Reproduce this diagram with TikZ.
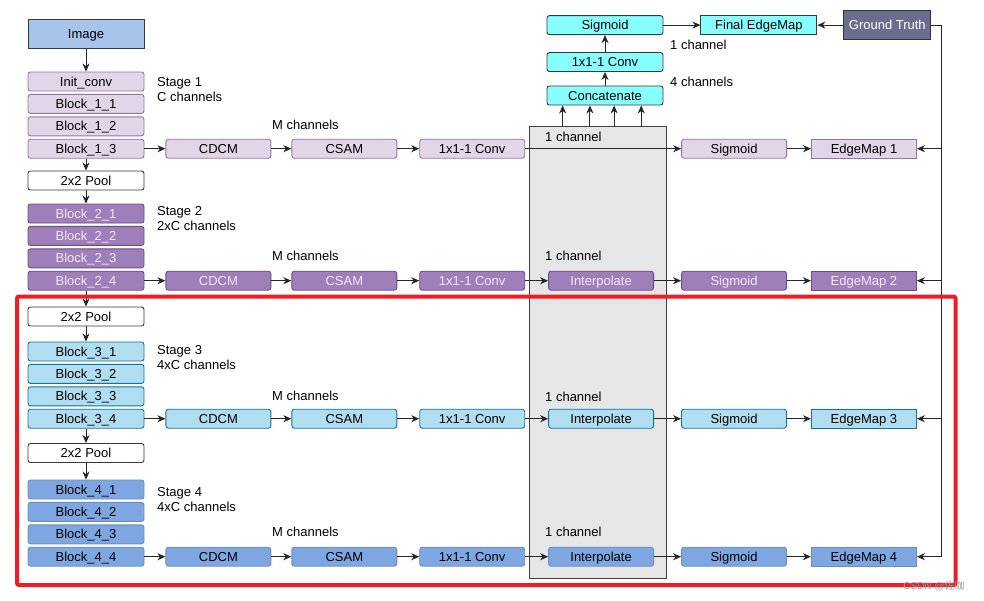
\documentclass[tikz,border=0pt]{standalone}
\usepackage{fontspec}
\setmainfont{Liberation Sans}
\newfontfamily\cjkfont{Noto Sans CJK SC}
\usetikzlibrary{arrows.meta,positioning,calc}
\definecolor{sOneFill}{HTML}{E1D5E7}
\definecolor{sOneLine}{HTML}{9673A6}
\definecolor{sTwoFill}{HTML}{9F7FBA}
\definecolor{sTwoLine}{HTML}{6A4C83}
\definecolor{sTwoText}{HTML}{F2EAF8}
\definecolor{sThreeFill}{HTML}{B1DDF0}
\definecolor{sThreeLine}{HTML}{10739E}
\definecolor{sFourFill}{HTML}{7EA6E0}
\definecolor{sFourLine}{HTML}{6C8EBF}
\definecolor{topFill}{HTML}{88FFFF}
\definecolor{imgFill}{HTML}{A9C4EB}
\definecolor{gtFill}{HTML}{6C6C8E}
\definecolor{panelFill}{HTML}{E6E6E6}
\definecolor{darkLine}{HTML}{36393D}
\definecolor{markRed}{HTML}{EE1C25}
\tikzset{
  blk/.style={rectangle, rounded corners=2.5pt, line width=0.9pt, minimum width=116pt, minimum height=19pt, inner sep=0pt, text height=9pt, text depth=0pt, font=\fontsize{13}{15}\selectfont},
  wblk/.style={blk, minimum width=105pt},
  mapblk/.style={wblk, sharp corners},
  sOne/.style={fill=sOneFill, draw=sOneLine},
  sTwo/.style={fill=sTwoFill, draw=sTwoLine, text=sTwoText},
  sThree/.style={fill=sThreeFill, draw=sThreeLine},
  sFour/.style={fill=sFourFill, draw=sFourLine},
  topblk/.style={blk, fill=topFill, draw=darkLine},
  poolblk/.style={blk, fill=white, draw=darkLine},
  lbl/.style={anchor=west, inner sep=0pt, align=left, font=\fontsize{13}{15}\selectfont},
  arrow/.style={-{Stealth[length=8pt, width=7pt, inset=2.5pt]}, line width=0.9pt, draw=black!85},
  wire/.style={line width=0.9pt, draw=black!85}
}
\begin{document}
\begin{tikzpicture}[x=1pt, y=-1pt, node distance=2.5pt]
  \useasboundingbox (0,0) rectangle (984,600);
  % side-output panel behind the interpolation column
  \node[rectangle, fill=panelFill, draw=black!75, line width=0.9pt, minimum width=137pt, minimum height=452pt] (panel) at (598,352.5) {};

  % backbone
  \node[blk, sharp corners, fill=imgFill, draw=darkLine, minimum height=29pt] (img) at (86,34) {Image};
  \node[blk, sOne] (init) at (86,81.5) {Init\_conv};
  \node[blk, sOne, below=of init] (b11) {Block\_1\_1};
  \node[blk, sOne, below=of b11] (b12) {Block\_1\_2};
  \node[blk, sOne, below=of b12] (b13) {Block\_1\_3};
  \node[poolblk] (pool1) at (86,180.5) {2x2 Pool};
  \node[blk, sTwo] (b21) at (86,213.5) {Block\_2\_1};
  \node[blk, sTwo, below=of b21] (b22) {Block\_2\_2};
  \node[blk, sTwo, below=of b22] (b23) {Block\_2\_3};
  \node[blk, sTwo, below=of b23] (b24) {Block\_2\_4};
  \node[poolblk] (pool2) at (86,316.5) {2x2 Pool};
  \node[blk, sThree] (b31) at (86,351.5) {Block\_3\_1};
  \node[blk, sThree, below=of b31] (b32) {Block\_3\_2};
  \node[blk, sThree, below=of b32] (b33) {Block\_3\_3};
  \node[blk, sThree, below=of b33] (b34) {Block\_3\_4};
  \node[poolblk] (pool3) at (86,453) {2x2 Pool};
  \node[blk, sFour] (b41) at (86,489.5) {Block\_4\_1};
  \node[blk, sFour, below=of b41] (b42) {Block\_4\_2};
  \node[blk, sFour, below=of b42] (b43) {Block\_4\_3};
  \node[blk, sFour, below=of b43] (b44) {Block\_4\_4};

  \node[lbl] (st1) at (157,89.5) {Stage 1\\C channels};
  \node[lbl] (st2) at (157,219) {Stage 2\\2xC channels};
  \node[lbl] (st3) at (157,357.5) {Stage 3\\4xC channels};
  \node[lbl] (st4) at (157,499.5) {Stage 4\\4xC channels};

  % side outputs, one row per stage
  \node[wblk, sOne, right=21pt of b13] (cdcm1) {CDCM};
  \node[wblk, sOne, right=20pt of cdcm1] (csam1) {CSAM};
  \node[wblk, sOne, right=22pt of csam1] (conv1) {1x1-1 Conv};
  \node[wblk, sOne, right=156pt of conv1] (sig1) {Sigmoid};
  \node[mapblk, sOne, right=24pt of sig1] (em1) {EdgeMap 1};

  \node[wblk, sTwo, right=21pt of b24] (cdcm2) {CDCM};
  \node[wblk, sTwo, right=20pt of cdcm2] (csam2) {CSAM};
  \node[wblk, sTwo, right=22pt of csam2] (conv2) {1x1-1 Conv};
  \node[wblk, sTwo, right=23pt of conv2] (int2) {Interpolate};
  \node[wblk, sTwo, right=27pt of int2] (sig2) {Sigmoid};
  \node[mapblk, sTwo, right=24pt of sig2] (em2) {EdgeMap 2};

  \node[wblk, sThree, right=21pt of b34] (cdcm3) {CDCM};
  \node[wblk, sThree, right=20pt of cdcm3] (csam3) {CSAM};
  \node[wblk, sThree, right=22pt of csam3] (conv3) {1x1-1 Conv};
  \node[wblk, sThree, right=23pt of conv3] (int3) {Interpolate};
  \node[wblk, sThree, right=27pt of int3] (sig3) {Sigmoid};
  \node[mapblk, sThree, right=24pt of sig3] (em3) {EdgeMap 3};

  \node[wblk, sFour, right=21pt of b44] (cdcm4) {CDCM};
  \node[wblk, sFour, right=20pt of cdcm4] (csam4) {CSAM};
  \node[wblk, sFour, right=22pt of csam4] (conv4) {1x1-1 Conv};
  \node[wblk, sFour, right=23pt of conv4] (int4) {Interpolate};
  \node[wblk, sFour, right=27pt of int4] (sig4) {Sigmoid};
  \node[mapblk, sFour, right=24pt of sig4] (em4) {EdgeMap 4};

  \node[lbl] (mc1) at (272,125) {M channels};
  \node[lbl] (mc2) at (272,256) {M channels};
  \node[lbl] (mc3) at (272,396) {M channels};
  \node[lbl] (mc4) at (272,532) {M channels};
  \node[lbl] (oc1) at (545,137) {1 channel};
  \node[lbl] (oc2) at (545,256) {1 channel};
  \node[lbl] (oc3) at (545,396.5) {1 channel};
  \node[lbl] (oc4) at (545,532) {1 channel};

  % fusion
  \node[topblk] (concat) at (605,95.5) {Concatenate};
  \node[topblk, above=13.6pt of concat] (fconv) {1x1-1 Conv};
  \node[topblk, above=17pt of fconv] (fsig) {Sigmoid};
  \node[topblk, sharp corners, right=37pt of fsig] (final) {Final EdgeMap};
  \node[blk, sharp corners, fill=gtFill, draw=black!80, text=white, minimum width=87pt, minimum height=29pt, right=26pt of final] (gt) {Ground Truth};
  \node[lbl] (fc1) at (670,45) {1 channel};
  \node[lbl] (fc4) at (670,82) {4 channels};

  % connectors
  \draw[arrow] (img) -- (init);
  \draw[arrow] (b13) -- (pool1);
  \draw[arrow] (pool1) -- (b21);
  \draw[arrow] (b24) -- (pool2);
  \draw[arrow] (pool2) -- (b31);
  \draw[arrow] (b34) -- (pool3);
  \draw[arrow] (pool3) -- (b41);

  \draw[arrow] (b13) -- (cdcm1);
  \draw[arrow] (cdcm1) -- (csam1);
  \draw[arrow] (csam1) -- (conv1);
  \draw[arrow] (conv1) -- (sig1);
  \draw[arrow] (sig1) -- (em1);
  \draw[arrow] (b24) -- (cdcm2);
  \draw[arrow] (cdcm2) -- (csam2);
  \draw[arrow] (csam2) -- (conv2);
  \draw[arrow] (conv2) -- (int2);
  \draw[arrow] (int2) -- (sig2);
  \draw[arrow] (sig2) -- (em2);
  \draw[arrow] (b34) -- (cdcm3);
  \draw[arrow] (cdcm3) -- (csam3);
  \draw[arrow] (csam3) -- (conv3);
  \draw[arrow] (conv3) -- (int3);
  \draw[arrow] (int3) -- (sig3);
  \draw[arrow] (sig3) -- (em3);
  \draw[arrow] (b44) -- (cdcm4);
  \draw[arrow] (cdcm4) -- (csam4);
  \draw[arrow] (csam4) -- (conv4);
  \draw[arrow] (conv4) -- (int4);
  \draw[arrow] (int4) -- (sig4);
  \draw[arrow] (sig4) -- (em4);

  \path ($(concat.south west)!0.138!(concat.south east)$) coordinate (in1)
        ($(concat.south west)!0.371!(concat.south east)$) coordinate (in2)
        ($(concat.south west)!0.578!(concat.south east)$) coordinate (in3)
        ($(concat.south west)!0.810!(concat.south east)$) coordinate (in4);
  \draw[arrow] (panel.north -| in1) -- (in1);
  \draw[arrow] (panel.north -| in2) -- (in2);
  \draw[arrow] (panel.north -| in3) -- (in3);
  \draw[arrow] (panel.north -| in4) -- (in4);
  \draw[arrow] (concat) -- (fconv);
  \draw[arrow] (fconv) -- (fsig);
  \draw[arrow] (fsig) -- (final);
  \draw[arrow] (gt) -- (final);

  % ground truth rail
  \coordinate (rail) at ($(gt.east)+(10,0)$);
  \draw[wire] (gt.east) -- (rail) -- (rail |- em4.east);
  \draw[arrow] (rail |- em1.east) -- (em1);
  \draw[arrow] (rail |- em2.east) -- (em2);
  \draw[arrow] (rail |- em3.east) -- (em3);
  \draw[arrow] (rail |- em4.east) -- (em4);

  % highlight
  \draw[markRed, line width=4pt, rounded corners=2pt] (17,296.5) rectangle (955.5,585);
  \node[font=\fontsize{10}{12}\selectfont, text=black!40, inner sep=0pt] (wm) at (934,586) {CSDN @{\cjkfont 佐咖}};
\end{tikzpicture}
\end{document}
